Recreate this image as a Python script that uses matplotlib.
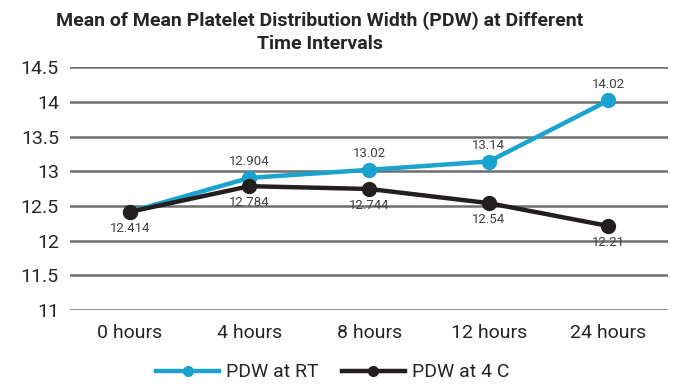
import matplotlib.pyplot as plt

plt.rcParams['font.family'] = ['Roboto', 'DejaVu Sans']

hours = ['0 hours', '4 hours', '8 hours', '12 hours', '24 hours']
pdw_rt = [12.414, 12.904, 13.02, 13.14, 14.02]
pdw_4c = [12.414, 12.784, 12.744, 12.54, 12.21]
yticks = [11, 11.5, 12, 12.5, 13, 13.5, 14, 14.5]

blue = '#1AA3CF'
dark = '#231F20'
label_col = '#404040'

fig = plt.figure(figsize=(6.73, 3.84), dpi=100)
ax = fig.add_axes([0.104, 0.193, 0.889, 0.632])

x = range(len(hours))
ax.plot(x, pdw_rt, color=blue, linewidth=3.2, marker='o', markersize=10,
        label='PDW at RT', zorder=3)
ax.plot(x, pdw_4c, color=dark, linewidth=3.2, marker='o', markersize=10,
        label='PDW at 4 C', zorder=4)

# value labels: RT above the points, 4 C below (first RT point shares the 4 C label)
for i, v in enumerate(pdw_rt):
    if i == 0:
        continue
    ax.annotate('{:g}'.format(v), (i, v), xytext=(0, 7), textcoords='offset points',
                ha='center', va='bottom', fontsize=9.5, color=label_col)
for i, v in enumerate(pdw_4c):
    ax.annotate('{:g}'.format(v), (i, v), xytext=(0, -7), textcoords='offset points',
                ha='center', va='top', fontsize=9.5, color=label_col)

ax.set_xlim(-0.5, len(hours) - 0.5)
ax.set_ylim(11, 14.5)
ax.set_yticks(yticks)
ax.set_yticklabels(['{:g}'.format(t) for t in yticks])
ax.set_xticks(list(x))
ax.set_xticklabels(hours)
ax.tick_params(axis='both', length=0, labelsize=14, colors='#262626', pad=8)
ax.tick_params(axis='x', pad=10)
ax.grid(axis='y', color='#6e6e6e', linewidth=1.8)
ax.set_axisbelow(True)
for s in ax.spines.values():
    s.set_visible(False)

fig.suptitle('Mean of Mean Platelet Distribution Width (PDW) at Different\nTime Intervals',
             x=0.475, y=0.97, fontsize=14, fontweight='bold', color='#262626',
             linespacing=1.3)

fig.legend(loc='center', bbox_to_anchor=(0.495, 0.03), ncol=2, frameon=False,
           fontsize=14, handlelength=3.2, columnspacing=1.2, handletextpad=0.4,
           markerscale=0.7, labelcolor='#262626')

fig.savefig('out.png', dpi=100)
